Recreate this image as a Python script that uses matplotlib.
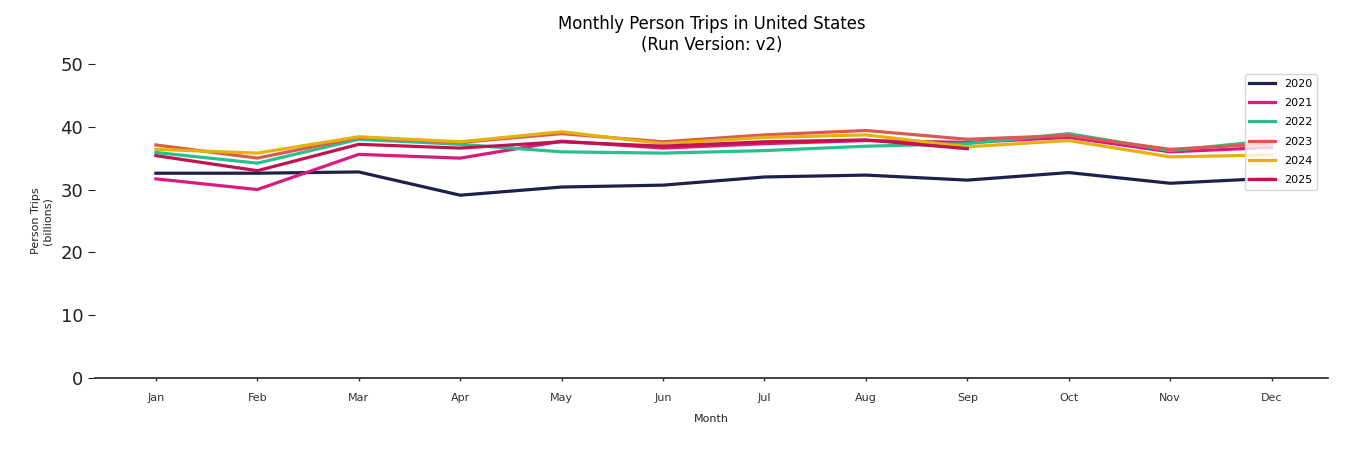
import matplotlib
matplotlib.use("Agg")
import matplotlib.pyplot as plt

months = ["Jan", "Feb", "Mar", "Apr", "May", "Jun", "Jul", "Aug", "Sep", "Oct", "Nov", "Dec"]
trips_2020 = [32.6, 32.6, 32.8, 29.1, 30.4, 30.7, 32.0, 32.3, 31.5, 32.7, 31.0, 31.8]
trips_2021 = [31.7, 30.0, 35.6, 35.0, 37.7, 36.6, 37.3, 37.8, 37.5, 38.3, 36.0, 36.7]
trips_2022 = [35.9, 34.2, 38.0, 37.2, 36.0, 35.8, 36.2, 36.9, 37.3, 38.9, 36.2, 37.8]
trips_2023 = [37.1, 35.0, 38.3, 37.5, 38.9, 37.6, 38.7, 39.4, 38.0, 38.6, 36.4, 37.3]
trips_2024 = [36.4, 35.8, 38.4, 37.6, 39.2, 37.3, 38.3, 38.7, 36.8, 37.8, 35.2, 35.5]
trips_2025 = [35.4, 33.0, 37.2, 36.6, 37.6, 36.9, 37.6, 37.9, 36.5]

series = [
    ("2020", trips_2020, "#1f1f4e"),
    ("2021", trips_2021, "#d81b7e"),
    ("2022", trips_2022, "#2bbf8e"),
    ("2023", trips_2023, "#d95a50"),
    ("2024", trips_2024, "#e6b10a"),
    ("2025", trips_2025, "#c2124f"),
]

fig = plt.figure(figsize=(13.5, 4.5), dpi=100)
ax = fig.add_axes([0.0704, 0.16, 0.9136, 0.698])

for label, vals, color in series:
    ax.plot(months[:len(vals)], vals, color=color, lw=2.3, label=label)

ax.set_ylim(0, 50)
ax.set_xlim(-0.6, 11.56)
ax.set_yticks([0, 10, 20, 30, 40, 50])
ax.tick_params(axis="y", labelsize=13, length=5, colors="#222222")
ax.tick_params(axis="x", labelsize=8, length=2.5, width=1, pad=8, colors="#333333")
for s in ["top", "right", "left"]:
    ax.spines[s].set_visible(False)
ax.spines["bottom"].set_color("#222222")
ax.spines["bottom"].set_linewidth(1.2)

ax.set_xlabel("Month", fontsize=8, labelpad=8, color="#222222")
ax.set_ylabel("Person Trips\n(billions)", fontsize=8, color="#222222", labelpad=6)
ax.set_title("Monthly Person Trips in United States\n(Run Version: v2)", fontsize=11.9,
             pad=10, linespacing=1.2)

leg = ax.legend(loc="upper right", fontsize=8, frameon=True, bbox_to_anchor=(0.995, 0.985),
                labelspacing=0.84, handlelength=2.3)
leg.get_frame().set_edgecolor("#cccccc")

fig.savefig("out.png", dpi=100)
